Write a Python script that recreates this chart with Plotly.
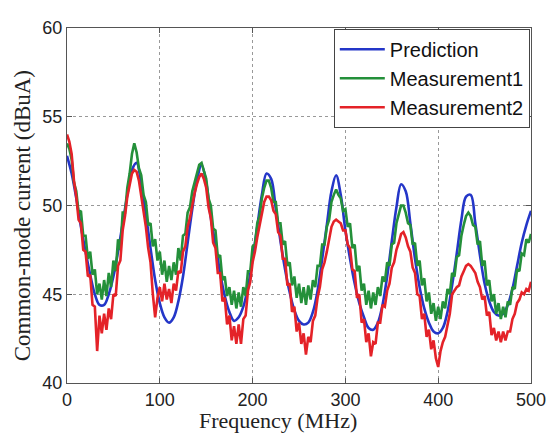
import plotly.graph_objects as go

# Frequency grids (MHz)
freq_pred = [i * 5 for i in range(101)]
freq_meas = [i * 2.5 for i in range(201)]

# Prediction (dBuA), every 5 MHz
prediction = [
    52.8, 51.8, 50.4, 48.8, 47.4, 46.1, 45.0, 44.4, 44.4, 45.0,
    46.0, 47.4, 49.0, 50.6, 52.0, 52.4, 51.2, 49.5, 47.6, 45.8,
    44.5, 43.7, 43.4, 43.7, 44.6, 46.0, 47.9, 49.8, 51.4, 52.3,
    51.3, 49.3, 47.8, 46.2, 44.9, 44.0, 43.5, 43.7, 44.3, 45.4,
    47.0, 48.8, 50.6, 51.8, 51.5, 49.8, 48.0, 46.4, 45.1, 44.1,
    43.5, 43.3, 43.4, 44.0, 45.2, 47.0, 48.9, 50.8, 51.7, 50.6,
    48.6, 47.0, 45.6, 44.5, 43.7, 43.1, 43.0, 43.4, 44.4, 46.0,
    48.0, 49.9, 51.2, 50.8, 49.0, 47.0, 45.4, 44.2, 43.4, 42.9,
    42.8, 43.1, 44.0, 45.5, 47.3, 49.2, 50.5, 50.6, 49.0, 47.2,
    45.6, 44.6, 44.0, 43.8, 43.9, 44.4, 45.3, 46.6, 47.9, 48.9,
    49.7,
]

# Measurement1 (dBuA), every 2.5 MHz
measurement1 = [
    53.5, 53.2, 52.6, 51.3, 50.8, 49.6, 49.7, 48.3, 48.3, 47.0,
    47.4, 46.1, 46.4, 45.0, 45.6, 44.7, 45.8, 44.9, 46.2, 45.4,
    46.9, 46.3, 48.1, 47.5, 49.6, 49.6, 51.0, 51.8, 52.9, 53.5,
    53.0, 52.1, 51.7, 50.6, 50.2, 48.9, 49.0, 47.7, 48.1, 46.9,
    47.4, 46.1, 46.9, 45.7, 46.6, 45.8, 46.8, 46.1, 47.6, 46.9,
    48.3, 48.4, 49.6, 49.9, 50.8, 51.3, 51.9, 52.3, 52.4, 52.0,
    51.5, 50.4, 50.0, 48.7, 48.6, 47.1, 47.2, 45.8, 46.0, 44.9,
    45.4, 44.4, 45.2, 44.2, 45.1, 44.3, 45.4, 44.9, 46.3, 46.3,
    47.7, 47.8, 49.0, 49.4, 50.4, 51.0, 51.4, 51.4, 51.0, 50.2,
    50.2, 49.0, 49.0, 47.8, 48.0, 46.6, 46.8, 45.5, 46.0, 44.8,
    45.6, 44.5, 45.4, 44.4, 45.5, 44.7, 45.8, 45.4, 46.6, 46.6,
    47.8, 47.8, 48.8, 49.2, 50.2, 50.6, 50.9, 50.6, 50.4, 49.7,
    49.8, 48.8, 49.0, 47.6, 47.8, 46.3, 46.6, 45.2, 45.6, 44.4,
    45.2, 44.2, 45.1, 44.4, 45.4, 44.9, 46.0, 45.7, 46.8, 46.6,
    47.8, 47.9, 49.0, 49.5, 50.0, 50.0, 49.6, 49.0, 48.9, 47.8,
    47.9, 46.6, 46.9, 45.5, 45.9, 44.6, 45.1, 43.9, 44.5, 43.5,
    44.3, 43.6, 44.6, 44.2, 45.3, 45.0, 46.2, 46.0, 47.1, 47.2,
    48.3, 48.9, 49.4, 49.6, 49.4, 48.9, 48.8, 47.8, 48.0, 46.6,
    46.9, 45.5, 45.8, 44.6, 45.0, 43.9, 44.5, 43.6, 44.3, 43.7,
    44.6, 44.4, 45.4, 45.3, 46.4, 46.3, 47.3, 47.2, 48.1, 47.9,
    48.4,
]

# Measurement2 (dBuA), every 2.5 MHz
measurement2 = [
    54.0, 53.6, 52.9, 51.4, 50.5, 49.2, 49.0, 47.5, 47.4, 46.0,
    46.1, 44.4, 44.3, 41.8, 43.8, 42.8, 43.9, 43.0, 44.2, 43.6,
    45.0, 44.9, 46.6, 46.9, 48.6, 49.4, 50.5, 51.2, 51.8, 52.0,
    51.9, 51.4, 50.6, 49.6, 48.8, 47.6, 46.8, 45.0, 43.7, 44.8,
    45.4, 44.6, 45.6, 44.7, 45.3, 44.5, 45.6, 45.2, 46.3, 46.2,
    47.4, 47.7, 48.8, 49.3, 50.1, 50.7, 51.2, 51.6, 51.8, 51.5,
    51.0, 49.9, 49.3, 47.9, 47.6, 46.2, 46.2, 44.6, 44.8, 43.3,
    43.8, 42.4, 43.2, 42.2, 43.3, 42.2, 43.6, 43.8, 45.2, 45.7,
    46.8, 47.4, 48.2, 48.9, 49.7, 50.2, 50.5, 50.5, 50.3, 49.7,
    49.5, 48.5, 48.3, 47.0, 47.0, 45.5, 45.6, 44.0, 44.3, 42.9,
    43.4, 42.2, 42.8, 41.6, 42.6, 42.3, 43.5, 43.8, 44.8, 45.4,
    46.4, 46.8, 47.4, 48.1, 48.8, 49.1, 49.2, 49.1, 49.0, 48.6,
    48.6, 47.8, 47.6, 46.4, 46.3, 44.8, 45.0, 43.4, 43.6, 42.3,
    42.8, 41.5, 42.3, 42.2, 43.4, 43.4, 44.4, 44.3, 45.2, 45.6,
    46.5, 46.8, 47.5, 47.9, 48.4, 48.5, 48.2, 47.7, 47.4, 46.5,
    46.2, 45.0, 44.9, 43.6, 43.9, 42.6, 43.0, 41.9, 42.4, 41.4,
    40.9, 41.8, 42.3, 42.6, 43.3, 43.9, 45.0, 45.2, 45.4, 45.5,
    46.0, 46.3, 46.6, 46.7, 46.6, 46.4, 46.2, 45.7, 45.4, 44.7,
    44.9, 43.8, 44.0, 42.7, 43.1, 42.4, 42.9, 42.3, 42.9, 42.4,
    42.9, 42.9, 43.6, 43.9, 44.5, 44.7, 45.1, 45.0, 45.3, 45.2,
    45.7,
]

x_ticks = [0, 100, 200, 300, 400, 500]
y_ticks = [40, 45, 50, 55, 60]

fig = go.Figure()
fig.add_trace(go.Scatter(x=freq_pred, y=prediction, name='Prediction', mode='lines',
                         line=dict(color='#2436c8', width=2.6, shape='spline')))
fig.add_trace(go.Scatter(x=freq_meas, y=measurement1, name='Measurement1', mode='lines',
                         line=dict(color='#24903a', width=2.6)))
fig.add_trace(go.Scatter(x=freq_meas, y=measurement2, name='Measurement2', mode='lines',
                         line=dict(color='#e42228', width=2.6)))

axis_common = dict(showline=True, linecolor='#555555', linewidth=1.2, mirror='ticks',
                   ticks='inside', ticklen=5, tickcolor='#555555',
                   showgrid=True, gridcolor='#999999', griddash='dot', gridwidth=1,
                   zeroline=False,
                   tickfont=dict(family='Liberation Sans, Arial', size=18, color='#222222'))

fig.update_xaxes(range=[0, 500], tickvals=x_ticks, **axis_common)
fig.update_yaxes(range=[40, 60], tickvals=y_ticks, **axis_common)

# axis titles as annotations so they sit where the original has them
fig.add_annotation(text='Frequency (MHz)', xref='paper', yref='paper', x=0.455, y=-0.107,
                   xanchor='center', yanchor='middle', showarrow=False,
                   font=dict(family='Liberation Serif, Times New Roman', size=22, color='#222222'))
fig.add_annotation(text='Common-mode current (dBuA)', xref='paper', yref='paper', x=-0.096, y=0.471,
                   xanchor='center', yanchor='middle', showarrow=False, textangle=-90,
                   font=dict(family='Liberation Serif, Times New Roman', size=23, color='#222222'))

# page body has an 8px margin, so the figure is 8px smaller than the window
fig.update_layout(
    width=548, height=429,
    margin=dict(l=59, r=19, t=10, b=54),
    paper_bgcolor='white', plot_bgcolor='white',
    showlegend=True,
    legend=dict(x=0.575, y=0.998, xanchor='left', yanchor='top',
                bgcolor='white', bordercolor='#444444', borderwidth=1,
                font=dict(family='Liberation Sans, Arial', size=20, color='#111111'),
                itemwidth=45),
)

fig.write_html("out.html")
